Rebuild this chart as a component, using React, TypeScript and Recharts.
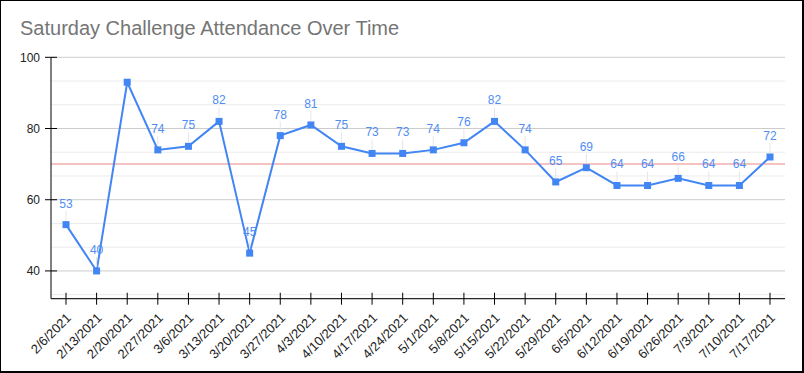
import React from "react";
import {
  LineChart,
  Line,
  XAxis,
  YAxis,
  CartesianGrid,
  ReferenceLine,
  LabelList,
} from "recharts";

const dates = [
  "2/6/2021", "2/13/2021", "2/20/2021", "2/27/2021", "3/6/2021", "3/13/2021",
  "3/20/2021", "3/27/2021", "4/3/2021", "4/10/2021", "4/17/2021", "4/24/2021",
  "5/1/2021", "5/8/2021", "5/15/2021", "5/22/2021", "5/29/2021", "6/5/2021",
  "6/12/2021", "6/19/2021", "6/26/2021", "7/3/2021", "7/10/2021", "7/17/2021",
];
const attendance = [
  53, 40, 93, 74, 75, 82, 45, 78, 81, 75, 73, 73,
  74, 76, 82, 74, 65, 69, 64, 64, 66, 64, 64, 72,
];
const hiddenLabels = ["2/20/2021"];
const yTicks = [40, 60, 80, 100];
const minorGrid = [33.333, 46.667, 53.333, 66.667, 73.333, 86.667, 93.333];
const targetLine = 70;
const yDomain = [32.2, 100];
const title = "Saturday Challenge Attendance Over Time";

const data = dates.map((d, i) => ({ date: d, value: attendance[i] }));

const FONT = "Arial, 'Liberation Sans', sans-serif";
const BLUE = "#4285f4";

const YTick = (props: any) => {
  const { x, y, payload } = props;
  return (
    <g>
      <line x1={x - 6} x2={x + 6} y1={y} y2={y} stroke="#000" strokeWidth={1} />
      <text x={x - 11} y={y} dy="0.36em" textAnchor="end" fontSize={12} fontFamily={FONT} fill="#222">
        {payload.value}
      </text>
    </g>
  );
};

const XTick = (props: any) => {
  const { x, y, payload } = props;
  const ax = x + 6;
  const ay = y + 20;
  return (
    <g>
      <line x1={x} x2={x} y1={y - 6} y2={y + 6} stroke="#000" strokeWidth={1} />
      <text
        x={ax}
        y={ay}
        textAnchor="end"
        fontSize={13}
        fontFamily={FONT}
        fill="#222"
        transform={`rotate(-45 ${ax} ${ay})`}
      >
        {payload.value}
      </text>
    </g>
  );
};

const DataLabel = (props: any) => {
  const { x, y, value, index } = props;
  if (hiddenLabels.includes(dates[index])) return null;
  return (
    <g>
      <line x1={x} x2={x} y1={y - 14} y2={y - 4} stroke="#e6e6e6" strokeWidth={1} />
      <text x={x} y={y - 17} textAnchor="middle" fontSize={12} fontFamily={FONT} fill="#4f8df5">
        {value}
      </text>
    </g>
  );
};

const Square = (props: any) => {
  const { cx, cy } = props;
  return <rect x={cx - 3.5} y={cy - 3.5} width={7} height={7} fill={BLUE} />;
};

export default function App() {
  return (
    <div
      style={{
        position: "absolute",
        left: 0,
        top: 0,
        width: 804,
        height: 373,
        boxSizing: "border-box",
        borderStyle: "solid",
        borderColor: "#000",
        borderWidth: "1px 2px 2px 1px",
        background: "#fff",
        overflow: "hidden",
      }}
    >
      <div
        style={{
          position: "absolute",
          left: 19,
          top: 16,
          fontFamily: FONT,
          fontSize: 20,
          color: "#757575",
          whiteSpace: "nowrap",
          lineHeight: "22px",
        }}
      >
        {title}
      </div>
      <div style={{ position: "absolute", left: -1, top: -1 }}>
        <LineChart
          width={804}
          height={373}
          data={data}
          margin={{ top: 57.3, right: 19, bottom: 0, left: 0 }}
        >
          <CartesianGrid horizontal vertical={false} stroke="#cccccc" />
          {minorGrid.map((v) => (
            <ReferenceLine key={v} y={v} stroke="#ebebeb" strokeWidth={1} ifOverflow="hidden" />
          ))}
          <ReferenceLine y={targetLine} stroke="#f4c2c0" strokeWidth={2} />
          <XAxis
            dataKey="date"
            interval={0}
            height={74.3}
            padding={{ left: 15, right: 15 }}
            tickSize={0}
            tickMargin={0}
            tickLine={false}
            axisLine={{ stroke: "#000", strokeWidth: 1 }}
            tick={<XTick />}
          />
          <YAxis
            width={51}
            domain={yDomain}
            ticks={yTicks}
            interval={0}
            allowDataOverflow
            tickSize={0}
            tickMargin={0}
            tickLine={false}
            axisLine={{ stroke: "#000", strokeWidth: 1 }}
            tick={<YTick />}
          />
          <Line
            type="linear"
            dataKey="value"
            stroke={BLUE}
            strokeWidth={2}
            dot={<Square />}
            activeDot={false}
            isAnimationActive={false}
          >
            <LabelList dataKey="value" content={<DataLabel />} />
          </Line>
        </LineChart>
      </div>
    </div>
  );
}
